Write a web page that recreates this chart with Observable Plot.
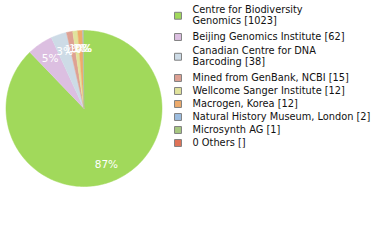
<!DOCTYPE html>
<html><head><meta charset="utf-8">
<script src="https://cdn.jsdelivr.net/npm/d3@7"></script>
<script src="https://cdn.jsdelivr.net/npm/@observablehq/plot@0.6"></script>
<style>body{margin:0;background:#fff}</style>
</head><body><div id="chart"></div>
<script>
const names = ["Centre for Biodiversity\nGenomics", "Beijing Genomics Institute", "Canadian Centre for DNA\nBarcoding", "Mined from GenBank, NCBI", "Wellcome Sanger Institute", "Macrogen, Korea", "Natural History Museum, London", "Microsynth AG", "0 Others"];
const counts = [1023, 62, 38, 15, 12, 12, 2, 1, null];
const colors = ["#a1d95b", "#dcbfe1", "#cddbe6", "#dea193", "#e1e39c", "#eeab6b", "#9cbde0", "#a7c880", "#e07256"];

const W = 380, H = 240;
const cx = 83.5, cy = 108, R = 78, LR = 60;
const slices = names.map((n, i) => ({name: n, count: counts[i], color: colors[i]})).filter(d => d.count);
const total = d3.sum(slices, d => d.count);
let acc = 0;
const poly = [], labels = [];
slices.forEach((s, i) => {
  const a0 = acc / total * 2 * Math.PI; acc += s.count;
  const a1 = acc / total * 2 * Math.PI;
  poly.push({k: i, x: cx, y: cy, c: s.color});
  const n = Math.max(2, Math.ceil((a1 - a0) / 0.02));
  for (let j = 0; j <= n; j++) {
    const a = a0 + (a1 - a0) * j / n;
    poly.push({k: i, x: cx + R * Math.sin(a), y: cy - R * Math.cos(a), c: s.color});
  }
  const am = (a0 + a1) / 2;
  labels.push({x: cx + LR * Math.sin(am), y: cy - LR * Math.cos(am), t: Math.floor(s.count / total * 100) + "%"});
});

// legend layout
const legRows = [], legBoxes = [];
let y = 9;
names.forEach((n, i) => {
  const lab = n + " [" + (counts[i] == null ? "" : counts[i]) + "]";
  const lines = lab.split("\n");
  const multi = lines.length > 1;
  if (i > 0) y += 13 + ((multi || names[i-1].includes("\n")) ? (multi ? 1 : 2.5) : 0);
  lines.forEach((l, j) => legRows.push({x: 192, y: y + j * 11.5, t: l}));
  legBoxes.push({x: 177.5, y: y + (lines.length - 1) * 11.5 / 2 + 0.5, c: colors[i]});
  y += (lines.length - 1) * 11.5;
});

const chart = Plot.plot({
  width: W, height: H, margin: 0,
  x: {domain: [0, W], range: [0, W], axis: null},
  y: {domain: [0, H], range: [0, H], axis: null},
  color: {type: "identity"},
  style: {fontFamily: "DejaVu Sans", background: "white"},
  marks: [
    Plot.line(poly, {x: "x", y: "y", z: "k", fill: "c", stroke: "c", strokeWidth: 0.5, curve: "linear"}),
    Plot.text(labels, {x: "x", y: "y", text: "t", fill: "white", fontSize: 10.5}),
    Plot.dot(legBoxes, {x: "x", y: "y", symbol: "square", r: 3.9, fill: "c", stroke: "#808080", strokeWidth: 1}),
    Plot.text(legRows, {x: "x", y: "y", text: "t", textAnchor: "start", fill: "#111", fontSize: 9.8})
  ]
});
document.getElementById("chart").appendChild(chart);
</script></body></html>
